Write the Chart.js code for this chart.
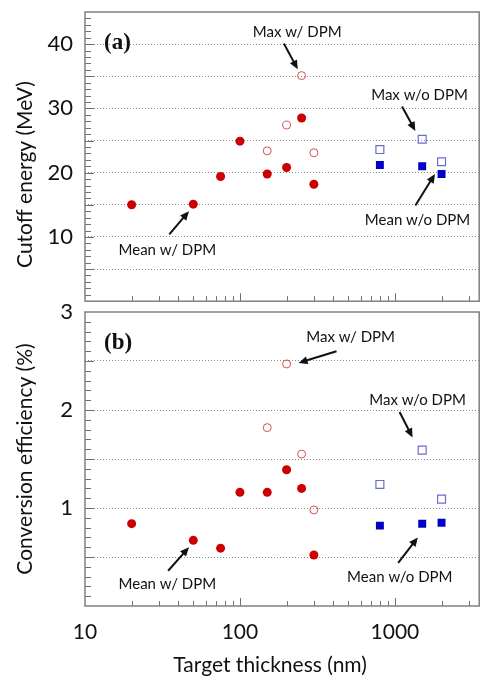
<!DOCTYPE html>
<html>
<head>
<meta charset="utf-8">
<script src="https://cdn.jsdelivr.net/npm/chart.js@4.4.0/dist/chart.umd.min.js"></script>
<style>
  body { margin: 0; background: #fff; width: 486px; height: 677px; position: relative; overflow: hidden; }
  canvas { position: absolute; left: 0; }
  #chartA { top: 0; }
  #chartB { top: 280px; }
</style>
</head>
<body>
<canvas id="chartB" width="486" height="397"></canvas>
<canvas id="chartA" width="486" height="308"></canvas>
<script>
// target thickness (nm)
const thicknessDPM = [20, 50, 75, 100, 150, 200, 250, 300];
const thicknessMaxDPM = [150, 200, 250, 300];
const thicknessNoDPM = [800, 1500, 2000];

// (a) cutoff energy (MeV)
const cutoffMeanDPM = [15.0, 15.1, 19.4, 24.9, 19.8, 20.8, 28.5, 18.2];
const cutoffMaxDPM = [23.4, 27.4, 35.1, 23.1];
const cutoffMeanNoDPM = [21.2, 21.0, 19.8];
const cutoffMaxNoDPM = [23.6, 25.2, 21.7];

// (b) conversion efficiency (%)
const effMeanDPM = [0.84, 0.67, 0.59, 1.16, 1.16, 1.39, 1.20, 0.52];
const effMaxDPM = [1.82, 2.47, 1.55, 0.98];
const effMeanNoDPM = [0.82, 0.84, 0.85];
const effMaxNoDPM = [1.24, 1.59, 1.09];

const xTickLabels = [10, 100, 1000];
const cutoffTickLabels = [10, 20, 30, 40];
const effTickLabels = [1, 2, 3];

// arrow notes, in data units: text x,y then arrow from -> to
const notesA = [
  { text: 'Max w/ DPM', at: [234, 41.9], from: [192, 40.1], to: [236, 36.1] },
  { text: 'Max w/o DPM', at: [1442, 32.1], from: [1112, 30.3], to: [1355, 26.5] },
  { text: 'Mean w/o DPM', at: [1400, 12.6], from: [1355, 14.9], to: [1816, 19.8] },
  { text: 'Mean w/ DPM', at: [34, 7.9], from: [35, 10.4], to: [46.9, 14.0] }
];
const notesB = [
  { text: 'Max w/ DPM', at: [518, 2.74], from: [420, 2.60], to: [239, 2.48] },
  { text: 'Max w/o DPM', at: [1400, 2.10], from: [1072, 1.98], to: [1300, 1.72] },
  { text: 'Mean w/o DPM', at: [1076, 0.29], from: [1050, 0.44], to: [1406, 0.70] },
  { text: 'Mean w/ DPM', at: [34, 0.22], from: [34.4, 0.36], to: [46.9, 0.60] }
];

const RED = '#cc0000', RED_OPEN = '#d65050', BLUE = '#0000c8', BLUE_OPEN = '#6a6ad0';
const FONT = 'Lato';

function pts(xs, ys) { return xs.map((x, i) => ({ x: x, y: ys[i] })); }

function makeSets(mean, max, meanNo, maxNo) {
  return [
    { data: pts(thicknessMaxDPM, max), pointStyle: 'circle', pointRadius: 4, borderWidth: 1,
      borderColor: RED_OPEN, backgroundColor: 'rgba(0,0,0,0)' },
    { data: pts(thicknessDPM, mean), pointStyle: 'circle', pointRadius: 4.5, borderWidth: 0,
      borderColor: RED, backgroundColor: RED },
    { data: pts(thicknessNoDPM, maxNo), pointStyle: 'rect', pointRadius: 5.6, borderWidth: 1.2,
      borderColor: BLUE_OPEN, backgroundColor: 'rgba(0,0,0,0)' },
    { data: pts(thicknessNoDPM, meanNo), pointStyle: 'rect', pointRadius: 5.6, borderWidth: 0,
      borderColor: BLUE, backgroundColor: BLUE }
  ];
}

function arrow(ctx, x1, y1, x2, y2) {
  const ang = Math.atan2(y2 - y1, x2 - x1), len = 9, w = 4;
  ctx.beginPath();
  ctx.moveTo(x1, y1);
  ctx.lineTo(x2 - Math.cos(ang) * len * 0.8, y2 - Math.sin(ang) * len * 0.8);
  ctx.stroke();
  ctx.beginPath();
  ctx.moveTo(x2, y2);
  ctx.lineTo(x2 - Math.cos(ang) * len - Math.sin(ang) * w, y2 - Math.sin(ang) * len + Math.cos(ang) * w);
  ctx.lineTo(x2 - Math.cos(ang) * len + Math.sin(ang) * w, y2 - Math.sin(ang) * len - Math.cos(ang) * w);
  ctx.closePath();
  ctx.fill();
}

function panelPlugin(letter, yTitle, yTitleShift, notes, minorStep, majorStep) {
  return {
    id: 'panel',
    afterDatasetsDraw(chart) {
      const { ctx, chartArea: a, scales: { x, y } } = chart;
      ctx.save();
      // inward tick marks
      ctx.strokeStyle = '#707070';
      ctx.lineWidth = 1;
      x.ticks.forEach(t => {
        const v = t.value, m = v / Math.pow(10, Math.floor(Math.log10(v) + 1e-9));
        if (Math.abs(m - Math.round(m)) > 1e-6) return;
        const px = Math.round(x.getPixelForValue(v)) + 0.5;
        if (px < a.left + 1 || px > a.right - 1) return;
        const len = xTickLabels.includes(v) ? 8 : 5;
        ctx.beginPath(); ctx.moveTo(px, a.bottom); ctx.lineTo(px, a.bottom - len); ctx.stroke();
      });
      for (let v = minorStep; v < y.max - 1e-9; v += minorStep) {
        const py = Math.round(y.getPixelForValue(v)) + 0.5;
        const k = v / majorStep;
        const len = Math.abs(k - Math.round(k)) < 1e-6 ? 9 : 6;
        ctx.beginPath(); ctx.moveTo(a.left, py); ctx.lineTo(a.left + len, py); ctx.stroke();
      }
      // frame
      ctx.strokeStyle = '#808080';
      ctx.lineWidth = 1.5;
      ctx.strokeRect(a.left, a.top, a.right - a.left, a.bottom - a.top);
      // panel letter
      ctx.fillStyle = '#111';
      ctx.font = 'bold 23px "Liberation Serif", "DejaVu Serif", serif';
      ctx.textAlign = 'left';
      ctx.textBaseline = 'middle';
      ctx.fillText(letter, a.left + 19, a.top + 31);
      // y title
      ctx.save();
      ctx.translate(25, (a.top + a.bottom) / 2 + yTitleShift);
      ctx.rotate(-Math.PI / 2);
      ctx.textAlign = 'center';
      ctx.font = '21px ' + FONT;
      ctx.fillText(yTitle, 0, 0);
      ctx.restore();
      // notes
      ctx.font = '15px ' + FONT;
      ctx.textAlign = 'center';
      ctx.fillStyle = '#111';
      ctx.strokeStyle = '#111';
      ctx.lineWidth = 2;
      notes.forEach(n => {
        ctx.fillText(n.text, x.getPixelForValue(n.at[0]), y.getPixelForValue(n.at[1]));
        arrow(ctx, x.getPixelForValue(n.from[0]), y.getPixelForValue(n.from[1]),
                   x.getPixelForValue(n.to[0]), y.getPixelForValue(n.to[1]));
      });
      ctx.restore();
    }
  };
}

function makeChart(id, sets, opt) {
  return new Chart(document.getElementById(id), {
    type: 'scatter',
    data: { datasets: sets },
    options: {
      responsive: false,
      animation: false,
      layout: { padding: { top: opt.padTop, right: 1, left: 0, bottom: 0 } },
      plugins: { legend: { display: false }, tooltip: { enabled: false } },
      scales: {
        x: {
          type: 'logarithmic', min: 10, max: 3500,
          afterFit(s) { s.height = opt.xHeight; s.paddingLeft = 0; s.paddingRight = 0; },
          grid: { display: false, drawTicks: false },
          border: { display: false },
          ticks: {
            display: opt.xLabels, autoSkip: false, maxRotation: 0, padding: 14,
            color: '#111', font: { family: FONT, size: 21 },
            callback: v => xTickLabels.includes(v) ? String(v) : ''
          }
        },
        y: {
          min: 0, max: opt.yMax,
          afterFit(s) { s.width = 85; s.paddingTop = 0; s.paddingBottom = 0; },
          grid: {
            drawTicks: false, lineWidth: 1,
            color: c => (c.tick.value > 0 && c.tick.value < opt.yMax) ? '#8a8a8a' : 'rgba(0,0,0,0)'
          },
          border: { display: false, dash: [1, 2] },
          ticks: {
            stepSize: opt.yStep, autoSkip: false, padding: 12,
            color: '#111', font: { family: FONT, size: 22 },
            callback: v => opt.yLabels.includes(v) ? String(v) : ''
          }
        }
      }
    },
    plugins: [opt.plugin]
  });
}

makeChart('chartA', makeSets(cutoffMeanDPM, cutoffMaxDPM, cutoffMeanNoDPM, cutoffMaxNoDPM), {
  padTop: 12, xHeight: 4, xLabels: false, yMax: 45, yStep: 5, yLabels: cutoffTickLabels,
  plugin: panelPlugin('(a)', 'Cutoff energy (MeV)', 18, notesA, 1, 5)
});

const chartB = makeChart('chartB', makeSets(effMeanDPM, effMaxDPM, effMeanNoDPM, effMaxNoDPM), {
  padTop: 32, xHeight: 71, xLabels: true, yMax: 3, yStep: 0.5, yLabels: effTickLabels,
  plugin: {
    id: 'panelB',
    afterDatasetsDraw: panelPlugin('(b)', 'Conversion efficiency (%)', 0, notesB, 0.1, 0.5).afterDatasetsDraw,
    afterDraw(chart) {
      const { ctx, chartArea: a } = chart;
      ctx.save();
      ctx.fillStyle = '#111';
      ctx.font = '21px ' + FONT;
      ctx.textAlign = 'center';
      ctx.textBaseline = 'middle';
      ctx.fillText('Target thickness (nm)', (a.left + a.right) / 2 - 12, a.bottom + 59);
      ctx.restore();
    }
  }
});
</script>
</body>
</html>
